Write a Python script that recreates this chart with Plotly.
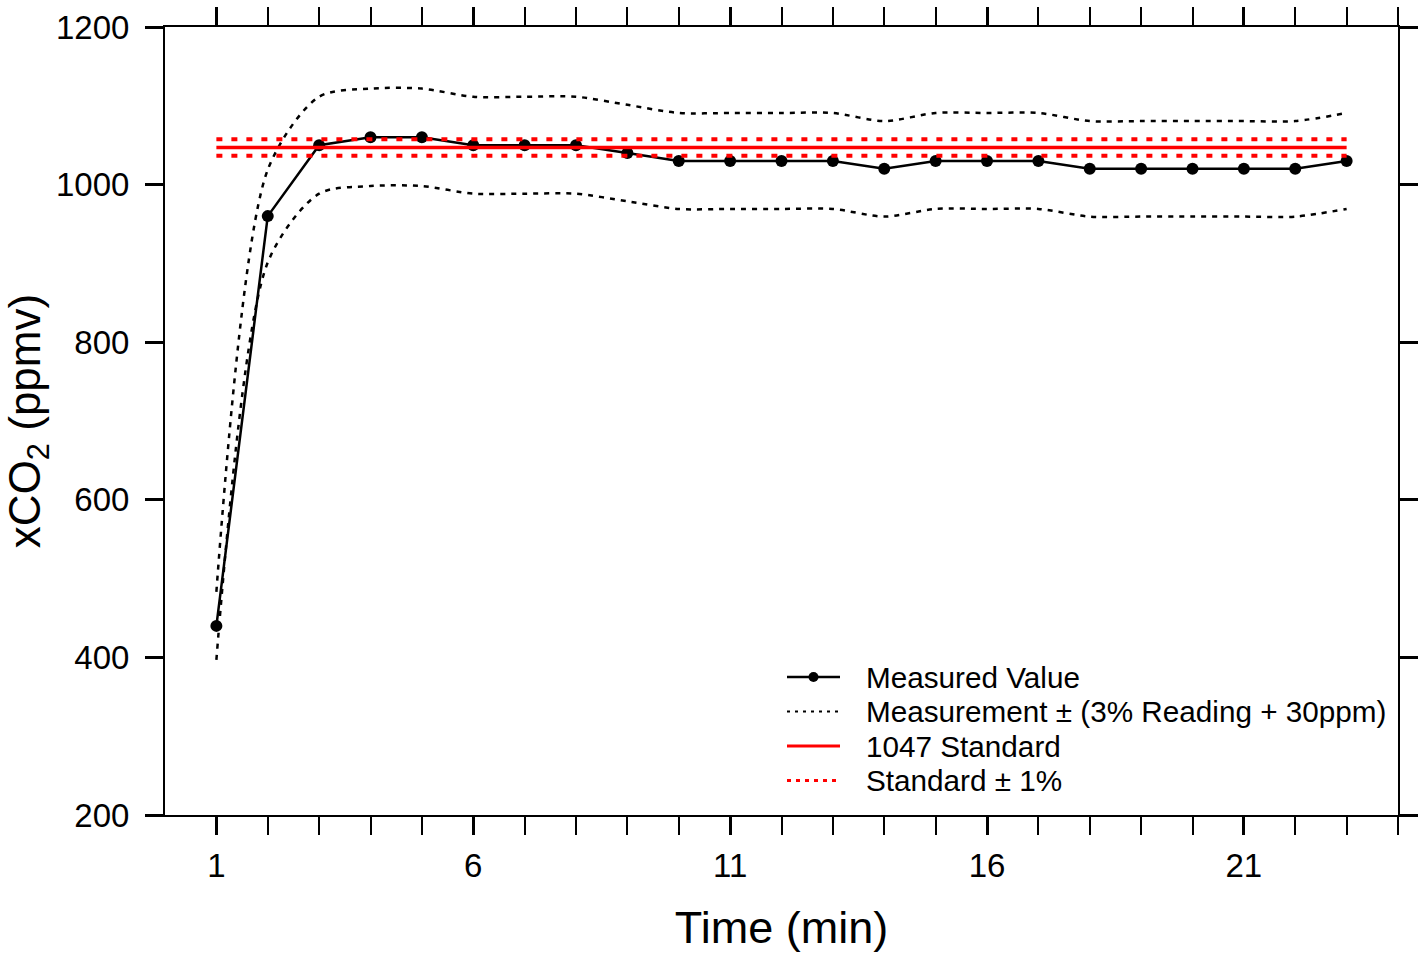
import plotly.graph_objects as go

# Sampling time (minutes)
minutes = list(range(1, 24))

# Measured CO2 mole fraction (ppmv)
measured = [440, 960, 1050, 1060, 1060, 1050, 1050, 1050, 1040, 1030, 1030, 1030,
            1030, 1020, 1030, 1030, 1030, 1020, 1020, 1020, 1020, 1020, 1030]

# Sensor accuracy envelope: reading ± (3% reading + 30 ppm)
upper_bound = [483.2, 1018.8, 1111.5, 1121.8, 1121.8, 1111.5, 1111.5, 1111.5, 1101.2,
               1090.9, 1090.9, 1090.9, 1090.9, 1080.6, 1090.9, 1090.9, 1090.9, 1080.6,
               1080.6, 1080.6, 1080.6, 1080.6, 1090.9]
lower_bound = [396.8, 901.2, 988.5, 998.2, 998.2, 988.5, 988.5, 988.5, 978.8,
               969.1, 969.1, 969.1, 969.1, 959.4, 969.1, 969.1, 969.1, 959.4,
               959.4, 959.4, 959.4, 959.4, 969.1]

# Reference gas standard and its ±1% band
std_x = [1, 23]
standard = [1047, 1047]
std_upper = [1057.47, 1057.47]
std_lower = [1036.53, 1036.53]

major_ticks = [1, 6, 11, 16, 21]
minor_ticks = list(range(2, 25))
y_ticks = [200, 400, 600, 800, 1000, 1200]

legend_labels = ["Measured Value", "Measurement ± (3% Reading + 30ppm)",
                 "1047 Standard", "Standard ± 1%"]

FONT = "Liberation Sans, Arial, sans-serif"
ENVELOPE_DASH = "5px,6px"
BAND_DASH = "6px,9px"

# Page geometry (pixels) used to lay out the key box inside the plot area
W, H = 1420, 953
M_L, M_R, M_T, M_B = 165, 22, 27, 138
PLOT_W = W - M_L - M_R
PLOT_H = H - M_T - M_B


def px_x(px):
    return (px - M_L) / PLOT_W


def px_y(py):
    return (H - M_B - py) / PLOT_H


fig = go.Figure()

fig.add_trace(go.Scatter(
    x=minutes, y=measured, mode="lines+markers", name=legend_labels[0],
    line=dict(color="black", width=2.5), marker=dict(color="black", size=12),
))
fig.add_trace(go.Scatter(
    x=minutes, y=upper_bound, mode="lines", name=legend_labels[1],
    line=dict(color="black", width=2.5, dash=ENVELOPE_DASH, shape="spline", smoothing=0.8),
))
fig.add_trace(go.Scatter(
    x=minutes, y=lower_bound, mode="lines", name=legend_labels[1],
    line=dict(color="black", width=2.5, dash=ENVELOPE_DASH, shape="spline", smoothing=0.8),
))
fig.add_trace(go.Scatter(
    x=std_x, y=standard, mode="lines", name=legend_labels[2],
    line=dict(color="#ff0000", width=3.5),
))
fig.add_trace(go.Scatter(
    x=std_x, y=std_upper, mode="lines", name=legend_labels[3],
    line=dict(color="#ff0000", width=4, dash=BAND_DASH),
))
fig.add_trace(go.Scatter(
    x=std_x, y=std_lower, mode="lines", name=legend_labels[3],
    line=dict(color="#ff0000", width=4, dash=BAND_DASH),
))

# Key: sample strokes on the left, labels to the right, compact row spacing
key_styles = [
    dict(color="black", width=2.5, dash="solid"),
    dict(color="black", width=2, dash="3px,5px"),
    dict(color="#ff0000", width=3, dash="solid"),
    dict(color="#ff0000", width=3, dash="4px,5px"),
]
key_x0, key_x1, key_text_x = 787, 840, 864
key_row_y = [677, 711.5, 746, 780.5]
shapes = []
annotations = []
for label, style, ry in zip(legend_labels, key_styles, key_row_y):
    shapes.append(dict(
        type="line", xref="paper", yref="paper",
        x0=px_x(key_x0), x1=px_x(key_x1), y0=px_y(ry), y1=px_y(ry),
        line=style,
    ))
    annotations.append(dict(
        text=label, xref="paper", yref="paper", x=px_x(key_text_x), y=px_y(ry),
        xanchor="left", yanchor="middle", showarrow=False,
        font=dict(family=FONT, size=29.7, color="black"),
    ))
# dot on the measured-value sample
dot_cx, dot_r = (key_x0 + key_x1) / 2, 5
shapes.append(dict(
    type="circle", xref="paper", yref="paper",
    x0=px_x(dot_cx - dot_r), x1=px_x(dot_cx + dot_r),
    y0=px_y(key_row_y[0] + dot_r), y1=px_y(key_row_y[0] - dot_r),
    fillcolor="black", line=dict(color="black", width=0),
))

axis_common = dict(
    showline=True, linecolor="black", linewidth=2, mirror="ticks",
    ticks="outside", ticklen=18, tickwidth=3, tickcolor="black",
    showgrid=False, zeroline=False, automargin=False,
    tickfont=dict(family=FONT, size=33, color="black"),
)

fig.update_xaxes(
    range=[0, 24], tickmode="array", tickvals=major_ticks,
    ticktext=[str(v) for v in major_ticks],
    minor=dict(tickmode="array", tickvals=minor_ticks, ticks="outside",
               ticklen=18, tickwidth=2, tickcolor="black"),
    ticklabelstandoff=2,
    title=dict(text="Time (min)", font=dict(family=FONT, size=45, color="black"),
               standoff=50),
    **axis_common,
)
fig.update_yaxes(
    range=[200, 1200], tickmode="array", tickvals=y_ticks,
    ticklabelstandoff=9,
    title=dict(text="xCO<sub>2</sub> (ppmv)", font=dict(family=FONT, size=44, color="black"),
               standoff=2),
    **axis_common,
)

fig.update_layout(
    width=W, height=H,
    margin=dict(l=M_L, r=M_R, t=M_T, b=M_B, autoexpand=False),
    paper_bgcolor="white", plot_bgcolor="white",
    font=dict(family=FONT, color="black"),
    showlegend=False,
    shapes=shapes,
    annotations=annotations,
)

fig.write_html("out.html")
